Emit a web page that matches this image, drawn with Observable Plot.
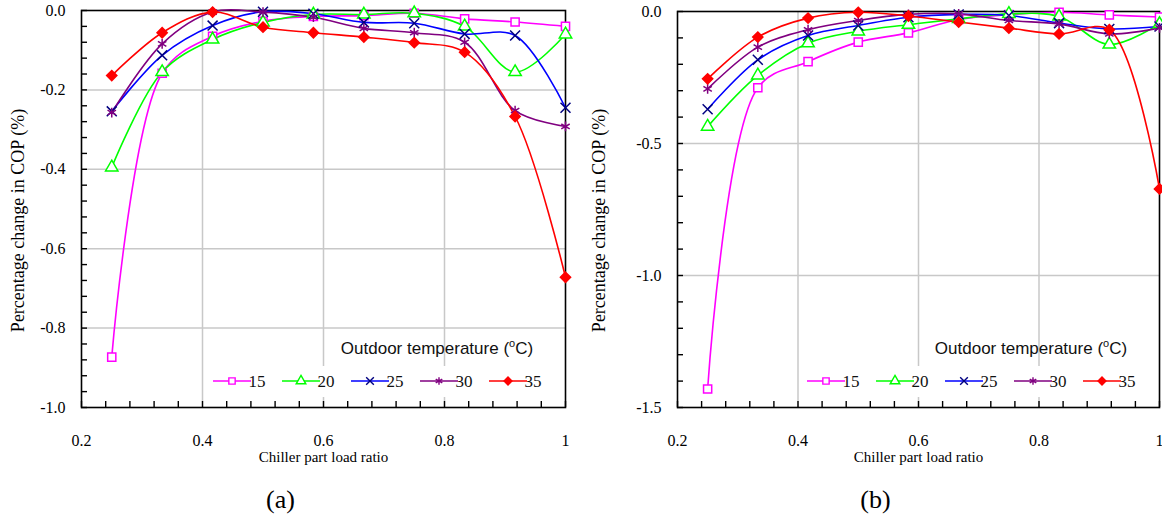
<!DOCTYPE html>
<html><head><meta charset="utf-8">
<script src="https://cdn.jsdelivr.net/npm/d3@7"></script>
<script src="https://cdn.jsdelivr.net/npm/@observablehq/plot@0.6"></script>
<style>
body{margin:0;background:#fff;}
#chart{position:relative;width:1162px;height:523px;overflow:hidden;background:#fff;}
#chart svg{position:absolute;top:0;overflow:visible;}
</style></head><body><div id="chart"></div>
<script>
// ---- data ----
const plr = [0.25, 0.3333, 0.4167, 0.5, 0.5833, 0.6667, 0.75, 0.8333, 0.9167, 1.0];
const temps = ["15", "20", "25", "30", "35"];

const a15 = [-0.873, -0.158, -0.065, -0.027, -0.015, -0.013, -0.007, -0.021, -0.029, -0.040];
const a20 = [-0.395, -0.155, -0.073, -0.030, -0.010, -0.010, -0.007, -0.040, -0.155, -0.060];
const a25 = [-0.254, -0.113, -0.038, -0.003, -0.008, -0.030, -0.032, -0.059, -0.063, -0.245];
const a30 = [-0.257, -0.084, -0.004, -0.004, -0.017, -0.045, -0.056, -0.080, -0.252, -0.292];
const a35 = [-0.164, -0.056, -0.004, -0.042, -0.056, -0.067, -0.081, -0.105, -0.267, -0.672];

const b15 = [-1.430, -0.289, -0.190, -0.116, -0.081, -0.030, -0.012, -0.003, -0.013, -0.021];
const b20 = [-0.436, -0.242, -0.120, -0.075, -0.050, -0.028, -0.009, -0.019, -0.125, -0.047];
const b25 = [-0.370, -0.183, -0.091, -0.053, -0.022, -0.011, -0.015, -0.044, -0.066, -0.057];
const b30 = [-0.293, -0.135, -0.069, -0.034, -0.011, -0.009, -0.034, -0.047, -0.085, -0.062];
const b35 = [-0.255, -0.097, -0.025, -0.003, -0.017, -0.040, -0.063, -0.085, -0.069, -0.672];

const xTicks = [0.2, 0.4, 0.6, 0.8, 1];
const xMinor = [0.2,0.24,0.28,0.32,0.36,0.4,0.44,0.48,0.52,0.56,0.6,0.64,0.68,0.72,0.76,0.8,0.84,0.88,0.92,0.96,1];
const yTicksA = [0, -0.2, -0.4, -0.6, -0.8, -1.0];
const yMinorA = [0,-0.04,-0.08,-0.12,-0.16,-0.2,-0.24,-0.28,-0.32,-0.36,-0.4,-0.44,-0.48,-0.52,-0.56,-0.6,-0.64,-0.68,-0.72,-0.76,-0.8,-0.84,-0.88,-0.92,-0.96,-1.0];
const yTicksB = [0, -0.5, -1.0, -1.5];
const yMinorB = [0,-0.1,-0.2,-0.3,-0.4,-0.5,-0.6,-0.7,-0.8,-0.9,-1.0,-1.1,-1.2,-1.3,-1.4,-1.5];

const lineColors = ["#ff00ff", "#00ff00", "#0000ff", "#800080", "#ff0000"];
const markColors = ["#ff00ff", "#00ff00", "#000080", "#800080", "#ff0000"];
const markFills = ["white", "white", "none", "none", "#ff0000"];
const symbols = ["square", "triangle", "times", "asterisk", "diamond2"];
const d3Symbols = [d3.symbolSquare, d3.symbolTriangle, d3.symbolTimes, d3.symbolAsterisk, d3.symbolDiamond2];

const yLabel = "Percentage change in COP (%)";
const xLabel = "Chiller part load ratio";
const legendTitle = "Outdoor temperature (";

const SERIF = "Liberation Serif";
const SANS = "Liberation Sans";
const TICK = 6;

function toRows(series) {
  const rows = [];
  series.forEach((vals, i) => vals.forEach((v, j) => rows.push({x: plr[j], y: v, s: i})));
  return rows;
}

function panel({series, yDomain, yTicks, yMinor, left, width, mt, mb, ml, mr, tag}) {
  const height = 523;
  const fh = height - mt - mb, fw = width - ml - mr;
  const yTickLen = (yDomain[1] - yDomain[0]) * TICK / fh;
  const xTickLen = 0.8 * TICK / fw;
  const rows = toRows(series);
  const marks = [
    Plot.gridX(xTicks.slice(1, -1), {stroke: "#c8c8c8", strokeOpacity: 1, strokeWidth: 1.5}),
    Plot.gridY(yTicks.slice(1, -1), {stroke: "#c8c8c8", strokeOpacity: 1, strokeWidth: 1.5}),
    Plot.ruleX(xMinor, {x: d => d, y1: yDomain[0], y2: yDomain[0] + yTickLen, stroke: "black", strokeWidth: 1.4}),
    Plot.ruleY(yMinor, {y: d => d, x1: 0.2, x2: 0.2 + xTickLen, stroke: "black", strokeWidth: 1.4}),
    Plot.axisX(xTicks, {tickSize: 0, tickPadding: 27, tickFormat: d => d === 1 ? "1" : d.toFixed(1), fontSize: 16, fontFamily: SERIF, label: null}),
    Plot.axisY(yTicks, {tickSize: 0, tickPadding: 16, tickFormat: d => d.toFixed(1), fontSize: 16, fontFamily: SERIF, label: null}),
    Plot.frame({stroke: "black", strokeWidth: 1.6}),
    Plot.text([xLabel], {frameAnchor: "bottom", dy: 54, fontSize: 15, fontFamily: SERIF, fill: "black"}),
    Plot.text([tag], {frameAnchor: "bottom", dx: -43, dy: 100, fontSize: 26, fontFamily: SERIF, fill: "black"}),
    Plot.text([yLabel], {frameAnchor: "left", textAnchor: "middle", rotate: -90, dx: -(ml - 18), dy: 220 - (mt + fh / 2), fontSize: 18, fontFamily: SERIF, fill: "black"})
  ];
  series.forEach((_, i) => {
    const data = rows.filter(r => r.s === i);
    marks.push(Plot.line(data, {x: "x", y: "y", stroke: lineColors[i], strokeWidth: 1.6, curve: "catmull-rom"}));
  });
  series.forEach((_, i) => {
    const data = rows.filter(r => r.s === i);
    marks.push(Plot.dot(data, {x: "x", y: "y", symbol: () => symbols[i], r: 4.6, stroke: markColors[i], fill: markFills[i], strokeWidth: 1.5}));
  });
  const svg = Plot.plot({
    width, height, marginTop: mt, marginBottom: mb, marginLeft: ml, marginRight: mr,
    x: {domain: [0.2, 1]},
    y: {domain: yDomain},
    symbol: {type: "identity"},
    style: {fontFamily: SERIF, fontSize: "16px", background: "white", overflow: "visible"},
    marks
  });
  svg.style.left = left + "px";

  // legend
  const right = width - mr, bottom = height - mb;
  const g = d3.select(svg).append("g");
  const x0 = right - 333, step = 69, ey = bottom - 26;
  g.append("rect").attr("x", x0 - 22).attr("y", bottom - 41).attr("width", right - 1 - (x0 - 22)).attr("height", 31).attr("fill", "white");
  const t = g.append("text").attr("x", right - 128).attr("y", bottom - 53)
    .attr("text-anchor", "middle").attr("font-family", SANS).attr("font-size", 17).attr("fill", "#111");
  t.append("tspan").text(legendTitle);
  t.append("tspan").attr("font-size", 11).attr("dy", -7).text("o");
  t.append("tspan").attr("dy", 7).text("C)");
  temps.forEach((name, i) => {
    const cx = x0 + i * step;
    g.append("line").attr("x1", cx - 19).attr("x2", cx + 19).attr("y1", ey).attr("y2", ey)
      .attr("stroke", lineColors[i]).attr("stroke-width", 1.6);
    g.append("path").attr("transform", `translate(${cx},${ey})`)
      .attr("d", d3.symbol(d3Symbols[i], 40)())
      .attr("stroke", markColors[i]).attr("fill", markFills[i]).attr("stroke-width", 1.4);
    g.append("text").attr("x", cx + 25).attr("y", ey + 6).attr("font-family", SERIF)
      .attr("font-size", 17).attr("fill", "#111").text(name);
  });
  document.getElementById("chart").appendChild(svg);
}

panel({series: [a15, a20, a25, a30, a35], yDomain: [-1, 0], yTicks: yTicksA, yMinor: yMinorA,
  left: 0, width: 581, mt: 10, mb: 116, ml: 81, mr: 16, tag: "(a)"});
panel({series: [b15, b20, b25, b30, b35], yDomain: [-1.5, 0], yTicks: yTicksB, yMinor: yMinorB,
  left: 581, width: 581, mt: 11, mb: 116, ml: 96, mr: 3, tag: "(b)"});
</script></body></html>
